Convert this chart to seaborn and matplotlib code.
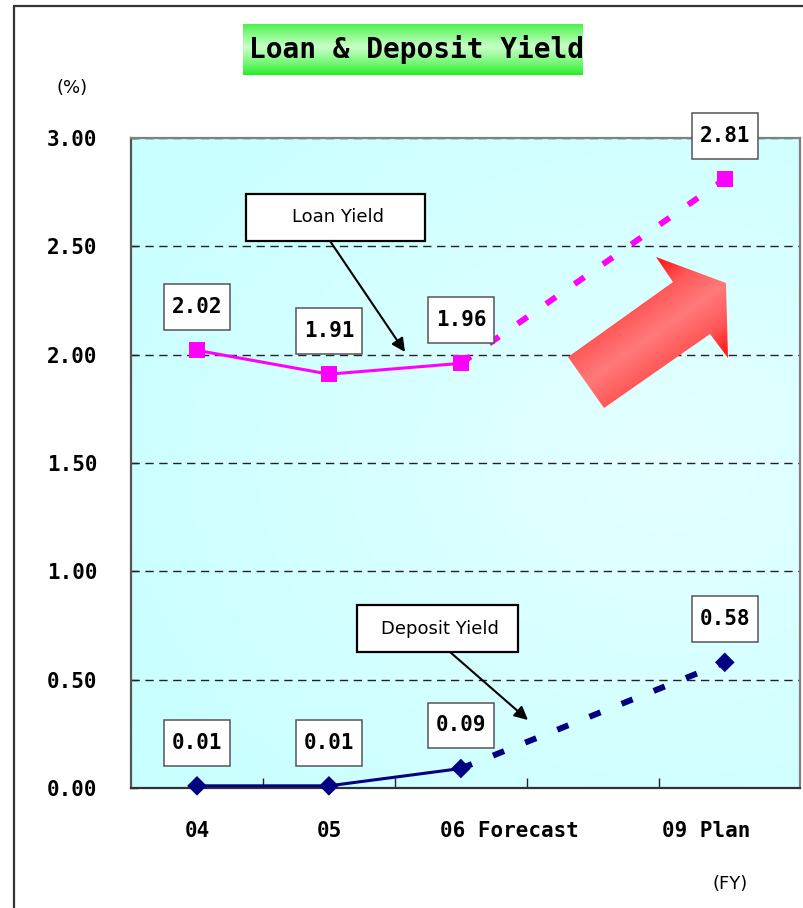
import numpy as np
import pandas as pd
import matplotlib
matplotlib.use("Agg")
import matplotlib.pyplot as plt
import seaborn as sns
from matplotlib.patches import Polygon, Rectangle
from matplotlib.lines import Line2D
from matplotlib.path import Path
from matplotlib.colors import to_rgb

# Fiscal years shown on the horizontal axis
fiscal_years = ["04", "05", "06 Forecast", "09 Plan"]
# Yields in percent
loan_yield = [2.02, 1.91, 1.96, 2.81]
deposit_yield = [0.01, 0.01, 0.09, 0.58]
# The first three years are results, the last one is the plan
n_actual = 3
y_ticks = [0.0, 0.5, 1.0, 1.5, 2.0, 2.5, 3.0]

# Horizontal layout: FY07 and FY08 are skipped, leaving a gap before the plan year
year_pos = [0, 1, 2, 4]
year_label_pos = [0, 1, 2.37, 3.86]
slot_edges = [0.5, 1.5, 2.5, 3.5]

sns.set_theme(style="white")
plt.rcParams["font.family"] = ["DejaVu Sans"]
plt.rcParams["text.color"] = "black"
plt.rcParams["xtick.color"] = "black"
plt.rcParams["ytick.color"] = "black"
plt.rcParams["axes.labelcolor"] = "black"

MONO = "DejaVu Sans Mono"
W, H = 804, 908
fig = plt.figure(figsize=(W / 100, H / 100), dpi=100)
fig.patch.set_facecolor("white")

AX_L, AX_R, AX_T, AX_B = 131, 800, 138, 788
ax = fig.add_axes([AX_L / W, 1 - AX_B / H, (AX_R - AX_L) / W, (AX_B - AX_T) / H])


def px2ax(px, py):
    """Pixel position on the canvas -> axes fraction."""
    return ((px - AX_L) / (AX_R - AX_L), (AX_B - py) / (AX_B - AX_T))


def label_box(x0, y0, width, height, mutation_size):
    """Rectangular label frame, a little taller than wide padding."""
    px = 0.38 * mutation_size
    py = 0.62 * mutation_size
    x0, y0 = x0 - px, y0 - py
    x1, y1 = x0 + width + 2 * px, y0 + height + 2 * py
    return Path([(x0, y0), (x1, y0), (x1, y1), (x0, y1), (x0, y0)],
                closed=True)


# ---- plot-area background: soft cyan gradient ----
yy, xx = np.mgrid[0:1:240j, 0:1:240j]
r = np.clip(np.sqrt(((xx - 0.8) / 0.95) ** 2 + ((yy - 0.5) / 0.75) ** 2), 0, 1)
c_in, c_out = np.array(to_rgb("#e4ffff")), np.array(to_rgb("#c8ffff"))
bg = c_in * (1 - r[..., None]) + c_out * r[..., None]
ax.imshow(bg, extent=[0, 1, 0, 1], transform=ax.transAxes, origin="lower",
          aspect="auto", zorder=-2, interpolation="bilinear")

# ---- data ----
df = pd.DataFrame({"pos": year_pos, "year": fiscal_years,
                   "loan": loan_yield, "deposit": deposit_yield})
actual = df.iloc[:n_actual]
plan = df.iloc[n_actual - 1:]

LOAN_C = "#ff00ff"
DEP_C = "#000080"
proj_style = (0, (2.0, 3.8))

sns.lineplot(data=actual, x="pos", y="loan", color=LOAN_C, lw=2.2, ax=ax, zorder=3)
sns.lineplot(data=plan, x="pos", y="loan", color=LOAN_C, lw=4.3,
             linestyle=proj_style, ax=ax, zorder=3)
sns.lineplot(data=actual, x="pos", y="deposit", color=DEP_C, lw=2.2, ax=ax, zorder=3)
sns.lineplot(data=plan, x="pos", y="deposit", color=DEP_C, lw=4.3,
             linestyle=proj_style, ax=ax, zorder=3)

sns.scatterplot(data=df, x="pos", y="loan", marker="s", s=135, color=LOAN_C,
                edgecolor="none", linewidth=0, ax=ax, zorder=4, clip_on=False)
sns.scatterplot(data=df, x="pos", y="deposit", marker="D", s=100, color=DEP_C,
                edgecolor="none", linewidth=0, ax=ax, zorder=4, clip_on=False)

# ---- value labels in boxes ----
for series in (loan_yield, deposit_yield):
    for x, v in zip(year_pos, series):
        ax.annotate(f"{v:.2f}", xy=(x, v), xytext=(0, 31), textcoords="offset points",
                    ha="center", va="center", fontsize=15, fontfamily=MONO,
                    fontweight="bold", color="black", zorder=6, annotation_clip=False,
                    bbox=dict(boxstyle=label_box, fc="white", ec="#555555", lw=1.1))

# ---- big red "upward" arrow ----
arrow_px = [(568, 357), (673, 282), (656, 257), (726, 283),
            (728, 358), (710, 334), (604, 408)]
arrow_poly = Polygon([px2ax(*p) for p in arrow_px], closed=True,
                     transform=ax.transAxes, fc="none", ec="none", zorder=2)
ax.add_patch(arrow_poly)
gx0, gx1, gy0, gy1 = 566, 730, 255, 410
py, pxg = np.mgrid[gy0:gy1:160j, gx0:gx1:170j]
sx, sy = (568 + 604) / 2, (357 + 408) / 2
ux, uy = 726 - sx, 283 - sy
norm = np.hypot(ux, uy)
ux, uy = ux / norm, uy / norm
d = np.abs((pxg - sx) * uy - (py - sy) * ux) / 31.0
t1 = np.clip(d, 0, 1)[..., None]
t2 = np.clip((d - 1) / 0.8, 0, 1)[..., None]
c0, c1, c2 = (np.array(to_rgb(c)) for c in ("#ff7a7a", "#ff5858", "#ff1c1c"))
grad = (c0 * (1 - t1) + c1 * t1) * (1 - t2) + c2 * t2
bx0, by0 = px2ax(gx0, gy1)
bx1, by1 = px2ax(gx1, gy0)
im = ax.imshow(grad, extent=[bx0, bx1, by0, by1], transform=ax.transAxes,
               origin="upper", aspect="auto", zorder=2, interpolation="bilinear")
im.set_clip_path(arrow_poly)

# ---- callouts naming each series ----
callouts = [("Loan Yield", (246, 194, 425, 241), (330, 241), (405, 352)),
            ("Deposit Yield", (357, 605, 518, 652), (450, 652), (528, 720))]
for text, (x0, y0, x1, y1), start, end in callouts:
    lx, ly = px2ax(x0, y1)
    ax.add_patch(Rectangle((lx, ly), (x1 - x0) / (AX_R - AX_L), (y1 - y0) / (AX_B - AX_T),
                           transform=ax.transAxes, fc="white", ec="black", lw=1.6,
                           zorder=6, clip_on=False))
    cx, cy = px2ax((x0 + x1) / 2 + 2, (y0 + y1) / 2)
    ax.text(cx, cy, text, transform=ax.transAxes, ha="center", va="center",
            fontsize=13, color="black", zorder=7)
    ax.annotate("", xy=px2ax(*end), xytext=px2ax(*start), xycoords="axes fraction",
                textcoords="axes fraction", zorder=6,
                arrowprops=dict(arrowstyle="-|>", color="black", lw=1.5,
                                mutation_scale=20, shrinkA=0, shrinkB=0))

# ---- axes, ticks, grid ----
ax.set_xlim(-0.5, 4.57)
ax.set_ylim(0, 3.0)
ax.set_xlabel("")
ax.set_ylabel("")

ax.set_yticks(y_ticks)
ax.set_yticklabels([f"{v:.2f}" for v in y_ticks])
ax.tick_params(axis="y", which="major", direction="in", length=5, width=1,
               color="#222222", labelcolor="black", left=True, pad=24, labelsize=15)
for lbl in ax.get_yticklabels():
    lbl.set_fontfamily(MONO)
    lbl.set_fontweight("bold")

ax.set_xticks(slot_edges)
ax.set_xticklabels([])
ax.set_xticks(year_label_pos, minor=True)
ax.set_xticklabels(fiscal_years, minor=True)
ax.tick_params(axis="x", which="major", direction="in", length=7, width=1,
               color="#222222", bottom=True)
ax.tick_params(axis="x", which="minor", length=0, pad=24, labelsize=15,
               labelcolor="black", bottom=True)
for lbl in ax.get_xticklabels(minor=True):
    lbl.set_fontfamily(MONO)
    lbl.set_fontweight("bold")

ax.yaxis.grid(True, color="#222222", lw=1.0, linestyle=(0, (6, 4)))
ax.xaxis.grid(False)
ax.set_axisbelow(True)

for name, sp in ax.spines.items():
    sp.set_visible(True)
    sp.set_color("#808080")
    sp.set_linewidth(1.6)
ax.spines["bottom"].set_color("#333333")
ax.spines["left"].set_color("#555555")

# ---- title banner ----
tax = fig.add_axes([243 / W, 1 - 75 / H, 340 / W, 51 / H])
tax.set_axis_off()
tt = np.linspace(0, 1, 120)
g = np.clip(1 - np.abs(tt - 0.45) / 0.55, 0, 1) ** 0.8
g_edge, g_mid = np.array(to_rgb("#1eee1e")), np.array(to_rgb("#c8ffc8"))
banner = (g_edge * (1 - g[:, None]) + g_mid * g[:, None])[:, None, :]
tax.imshow(np.repeat(banner, 4, axis=1), extent=[0, 1, 0, 1], origin="upper",
           aspect="auto", interpolation="bilinear")
tax.set_xlim(0, 1)
tax.set_ylim(0, 1)
tax.text(0.51, 0.5, "Loan & Deposit Yield", ha="center", va="center",
         fontsize=20, fontfamily=MONO, fontweight="bold", color="black")

# ---- unit labels ----
fig.text(72 / W, 1 - 88 / H, "(%)", ha="center", va="center", fontsize=13, color="black")
fig.text(730 / W, 1 - 884 / H, "(FY)", ha="center", va="center", fontsize=13, color="black")

# ---- frame lines of the slide ----
fig.add_artist(Line2D([14 / W, 14 / W], [0, 1 - 6 / H], color="#333333", lw=1.6))
fig.add_artist(Line2D([14 / W, 1], [1 - 6 / H, 1 - 6 / H], color="#333333", lw=1.6))

fig.savefig("out.png", dpi=100, facecolor="white")
